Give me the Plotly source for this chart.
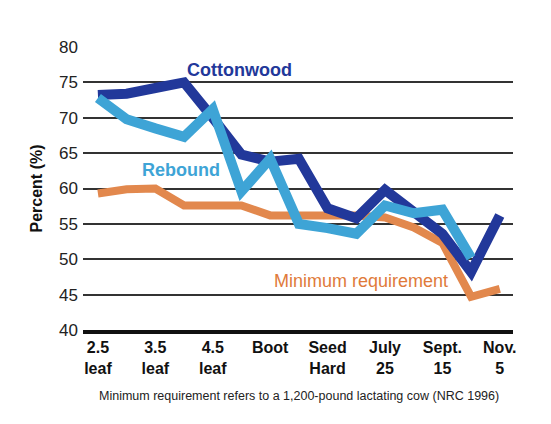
import plotly.graph_objects as go

# Growth stages (tick labels) and sampling positions at half-stage steps
stage_labels = ["2.5<br>leaf", "3.5<br>leaf", "4.5<br>leaf", "Boot",
                "Seed<br>Hard", "July<br>25", "Sept.<br>15", "Nov.<br>5"]
stage_pos = [0, 1, 2, 3, 4, 5, 6, 7]
sample_pos = [0, 0.5, 1, 1.5, 2, 2.5, 3, 3.5, 4, 4.5, 5, 5.5, 6, 6.5, 7]

# Percent values
cottonwood = [73.2, 73.4, 74.2, 75.0, 70.0, 64.8, 63.8, 64.2,
              57.2, 55.8, 59.8, 56.8, 53.6, 48.2, 56.2]
rebound = [72.8, 69.8, 68.5, 67.3, 71.2, 59.6, 64.2, 55.0,
           54.4, 53.6, 57.6, 56.5, 57.0, 50.2]
minimum_req = [59.3, 59.9, 60.0, 57.6, 57.6, 57.6, 56.2, 56.2,
               56.2, 56.2, 55.9, 54.5, 52.3, 44.7, 45.8]

C_DARK = "#22389a"
C_LIGHT = "#3ea4d6"
C_ORANGE = "#e2884d"
FONT = "Liberation Sans, Arial, sans-serif"

fig = go.Figure()
fig.add_trace(go.Scatter(x=sample_pos, y=minimum_req, mode="lines",
                         line=dict(color=C_ORANGE, width=8), hoverinfo="skip"))
fig.add_trace(go.Scatter(x=sample_pos, y=cottonwood, mode="lines",
                         line=dict(color=C_DARK, width=10), hoverinfo="skip"))
fig.add_trace(go.Scatter(x=sample_pos[:len(rebound)], y=rebound, mode="lines",
                         line=dict(color=C_LIGHT, width=10), hoverinfo="skip"))

# Series labels
fig.add_annotation(x=2.47, y=76.8, text="<b>Cottonwood</b>", showarrow=False,
                   font=dict(family=FONT, size=18, color=C_DARK))
fig.add_annotation(x=1.45, y=62.65, text="<b>Rebound</b>", showarrow=False,
                   font=dict(family=FONT, size=18, color=C_LIGHT))
fig.add_annotation(x=4.58, y=46.9, text="Minimum requirement", showarrow=False,
                   font=dict(family=FONT, size=18, color="#e07a3a"))

# Footnote
fig.add_annotation(xref="paper", yref="paper", x=0.502, y=-0.233,
                   yanchor="middle",
                   text="Minimum requirement refers to a 1,200-pound lactating cow (NRC 1996)",
                   showarrow=False,
                   font=dict(family=FONT, size=12.5, color="#222"))

fig.update_layout(
    width=551, height=424,
    margin=dict(l=83, r=38, t=47, b=94),
    paper_bgcolor="white", plot_bgcolor="white",
    showlegend=False,
    font=dict(family=FONT, color="#222"),
    xaxis=dict(range=[-0.26, 7.23], tickmode="array", tickvals=stage_pos,
               ticktext=["<b>" + t.replace("<br>", "</b><br><b>") + "</b>" for t in stage_labels],
               tickfont=dict(family=FONT, size=16, color="#111"),
               showgrid=False, zeroline=False,
               showline=True, linecolor="#111", linewidth=4,
               ticks="", fixedrange=True),
    yaxis=dict(range=[40, 80], tickvals=[40, 45, 50, 55, 60, 65, 70, 75, 80],
               tickfont=dict(family=FONT, size=17, color="#222"),
               showgrid=True, gridcolor="#333", gridwidth=2,
               zeroline=False, showline=False, ticks="",
               ticklabelstandoff=4,
               title=dict(text="<b>Percent (%)</b>", standoff=12,
                          font=dict(family=FONT, size=16, color="#111"))),
)

fig.write_html("out.html")
